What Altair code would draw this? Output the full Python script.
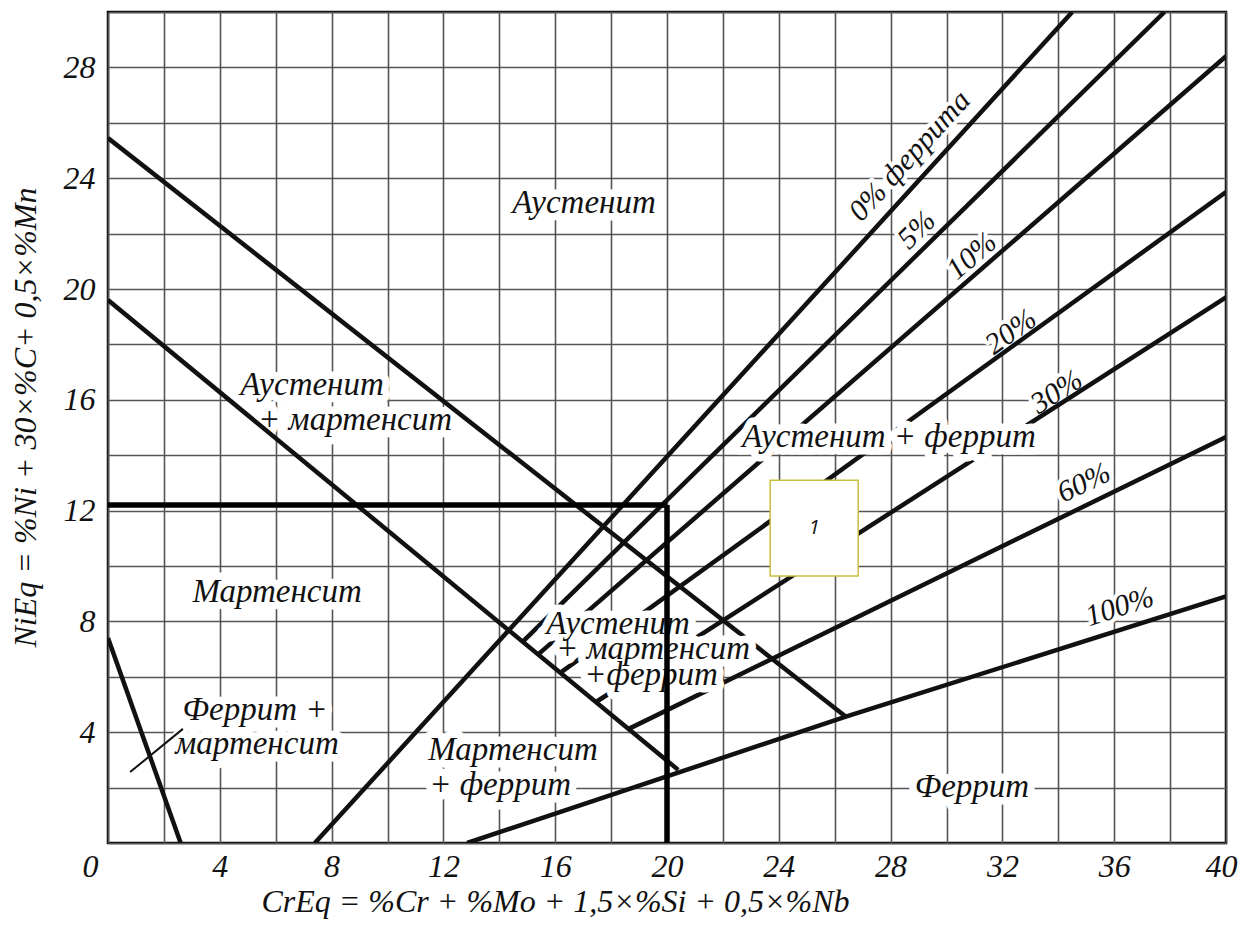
import altair as alt
import pandas as pd

# ---------------- data ----------------
# phase-boundary and iso-ferrite lines of the Schaeffler diagram
line_names = ["A/A+M", "M/A+M", "F+M", "0%", "5%", "10%", "20%", "30%", "60%", "100%"]
line_x = [
    [0, 26.4],
    [0, 20.4],
    [0, 2.6],
    [7.4, 34.5],
    [14.84, 37.8],
    [15.39, 40],
    [16.19, 40],
    [17.46, 40],
    [18.63, 40],
    [12.85, 26.4, 40],
]
line_y = [
    [25.45, 4.56],
    [19.6, 2.64],
    [7.4, 0],
    [0, 30],
    [7.27, 30],
    [6.81, 28.4],
    [6.15, 23.5],
    [5.09, 19.7],
    [4.12, 14.66],
    [0, 4.56, 8.9],
]

# the marked composition point (CrEq, NiEq)
point_creq = 20.0
point_nieq = 12.2

# region labels (text, anchor in data units, whether its white backing hides the lines)
region_text = ["Аустенит", "Аустенит", "+ мартенсит", "Мартенсит", "Феррит +", "мартенсит",
               "Аустенит", "+ мартенсит", "+феррит", "Мартенсит", "+ феррит",
               "Аустенит + феррит", "Феррит"]
region_x = [17.03, 7.30, 8.84, 6.05, 5.26, 5.33, 18.25, 19.5, 19.43, 14.49, 14.03, 27.94, 30.91]
region_y = [23.10, 16.53, 15.27, 9.06, 4.80, 3.57, 7.91, 7.0, 6.06, 3.36, 2.09, 14.66, 2.02]
region_cover = [False, False, False, False, False, False,
                True, True, True, False, False, True, False]

# ferrite-percentage labels along the lines
pct_text = ["0% феррита", "5%", "10%", "20%", "30%", "60%", "100%"]
pct_x = [28.69, 28.94, 30.91, 32.31, 33.95, 34.92, 36.2]
pct_y = [24.8, 22.13, 21.19, 18.45, 16.28, 13.0, 8.52]
pct_rot = [47.7, 44.5, 41.0, 36.0, 32.7, 26.0, 18.0]   # degrees, counter-clockwise

# leader for "Феррит + мартенсит"
leader_x = [0.79, 2.68]
leader_y = [2.56, 4.12]

# numbered box "1"
box_x = [23.69, 26.84]
box_y = [9.64, 13.1]
box_label = "1"

# ---------------- tables ----------------
rows = []
for name, xs, ys in zip(line_names, line_x, line_y):
    for i, (a, b) in enumerate(zip(xs, ys)):
        rows.append({"line": name, "x": a, "y": b, "i": i})
lines_df = pd.DataFrame(rows)

guide_df = pd.DataFrame([
    {"line": "h", "x": 0, "y": point_nieq, "i": 0},
    {"line": "h", "x": point_creq, "y": point_nieq, "i": 1},
    {"line": "v", "x": point_creq, "y": point_nieq, "i": 0},
    {"line": "v", "x": point_creq, "y": 0, "i": 1},
])
leader_df = pd.DataFrame({"line": "lead", "x": leader_x, "y": leader_y, "i": [0, 1]})
region_df = pd.DataFrame({"label": region_text, "x": region_x, "y": region_y,
                          "cover": region_cover})
pct_df = pd.DataFrame({"label": pct_text, "x": pct_x, "y": pct_y,
                       "angle": [360 - a for a in pct_rot]})
box_df = pd.DataFrame({"x": [box_x[0]], "x2": [box_x[1]], "y": [box_y[0]], "y2": [box_y[1]],
                       "cx": [sum(box_x) / 2], "cy": [sum(box_y) / 2], "label": [box_label]})

# ---------------- encodings ----------------
SERIF = "Liberation Serif"
INK = "#111111"
GRID = "#555555"

x_axis = alt.Axis(
    values=list(range(0, 41, 2)),
    labelExpr="datum.value % 4 == 0 ? datum.label : ''",
    grid=True, gridColor=GRID, gridWidth=1.6,
    ticks=False, domain=False,
    labelFont=SERIF, labelFontStyle="italic", labelFontSize=32, labelColor=INK,
    labelPadding=8, labelFlush=False, labelOverlap=False,
    labelAlign={"condition": {"test": "datum.value == 0", "value": "right"}, "value": "center"},
    labelOffset={"condition": [{"test": "datum.value == 0", "value": -10},
                               {"test": "datum.value == 40", "value": -5}], "value": 0},
    title="CrEq = %Cr + %Mo + 1,5×%Si + 0,5×%Nb",
    titleFont=SERIF, titleFontStyle="italic", titleFontWeight="normal", titleFontSize=32,
    titleColor=INK, titleX=447, titleY=58, titleAlign="center", titleBaseline="middle",
)
y_axis = alt.Axis(
    values=list(range(0, 31, 2)),
    labelExpr="datum.value % 4 == 0 && datum.value > 0 ? datum.label : ''",
    grid=True, gridColor=GRID, gridWidth=1.6,
    ticks=False, domain=False,
    labelFont=SERIF, labelFontStyle="italic", labelFontSize=32, labelColor=INK,
    labelPadding=13, labelOverlap=False, labelFlush=False,
    title="NiEq = %Ni + 30×%C+ 0,5×%Mn",
    titleFont=SERIF, titleFontStyle="italic", titleFontWeight="normal", titleFontSize=32,
    titleColor=INK, titleAngle=270, titleX=-83, titleY=405, titleAlign="center",
    titleBaseline="middle",
)
xscale = alt.Scale(domain=[0, 40], nice=False, zero=False)
yscale = alt.Scale(domain=[0, 30], nice=False, zero=False)
X = alt.X("x:Q", scale=xscale, axis=x_axis)
Y = alt.Y("y:Q", scale=yscale, axis=y_axis)

# ---------------- layers ----------------
pct_halo = alt.Chart(pct_df).mark_text(
    font=SERIF, fontStyle="italic", fontSize=30, color="white",
    stroke="white", strokeWidth=8, strokeJoin="round", baseline="middle", align="center"
).encode(x=X, y=Y, text="label:N", angle=alt.Angle("angle:Q", scale=None))

halo_kw = dict(font=SERIF, fontStyle="italic", fontSize=33, color="white",
               stroke="white", strokeWidth=15, strokeJoin="round",
               baseline="middle", align="center")
region_halo_under = alt.Chart(region_df).transform_filter("!datum.cover").mark_text(
    **halo_kw).encode(x=X, y=Y, text="label:N")
region_halo_over = alt.Chart(region_df).transform_filter("datum.cover").mark_text(
    **halo_kw).encode(x=X, y=Y, text="label:N")

lines = alt.Chart(lines_df).mark_line(color=INK, strokeWidth=4.5, clip=True).encode(
    x=X, y=Y, detail="line:N", order="i:Q")

box = alt.Chart(box_df).mark_rect(fill="white", stroke="#c8bf3a", strokeWidth=1.5).encode(
    x=X, x2="x2:Q", y=Y, y2="y2:Q")
box_text = alt.Chart(box_df).mark_text(
    font="Open Sans", fontStyle="italic", fontSize=20, color=INK, baseline="middle", align="center"
).encode(x=alt.X("cx:Q", scale=xscale, axis=x_axis), y=alt.Y("cy:Q", scale=yscale, axis=y_axis),
         text="label:N")

region_lbl = alt.Chart(region_df).mark_text(
    font=SERIF, fontStyle="italic", fontSize=33, color=INK, baseline="middle", align="center"
).encode(x=X, y=Y, text="label:N")

pct_lbl = alt.Chart(pct_df).mark_text(
    font=SERIF, fontStyle="italic", fontSize=30, color=INK, baseline="middle", align="center"
).encode(x=X, y=Y, text="label:N", angle=alt.Angle("angle:Q", scale=None))

guides = alt.Chart(guide_df).mark_line(color="black", strokeWidth=5.5, clip=True).encode(
    x=X, y=Y, detail="line:N", order="i:Q")
leader = alt.Chart(leader_df).mark_line(color=INK, strokeWidth=2).encode(
    x=X, y=Y, detail="line:N", order="i:Q")

chart = alt.layer(
    pct_halo, region_halo_under, lines, box, box_text, region_halo_over,
    region_lbl, pct_lbl, guides, leader
).properties(
    width=1118, height=831,
    autosize="none",
    padding={"left": 100, "top": 4, "right": 14, "bottom": 76},
    background="white",
).configure_view(stroke="black", strokeWidth=2.5)

chart.save("out.html", embed_options={"renderer": "svg", "actions": False})
